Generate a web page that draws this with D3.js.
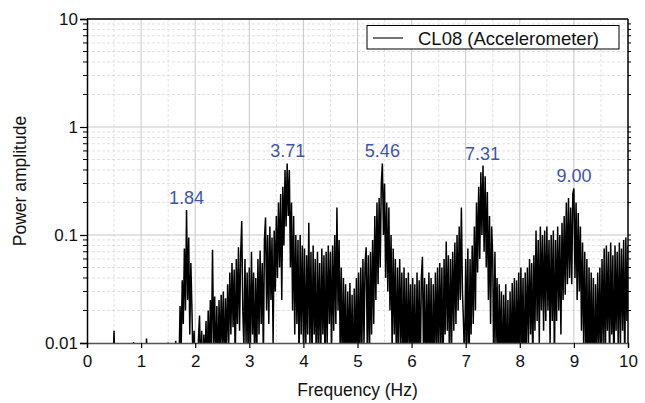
<!DOCTYPE html>
<html>
<head>
<meta charset="utf-8">
<script src="https://cdn.jsdelivr.net/npm/d3@7"></script>
<style>
html,body{margin:0;padding:0;background:#fff;}
svg{display:block;font-family:Arial,"Liberation Sans",sans-serif;}
</style>
</head>
<body>
<svg id="chart" width="645" height="403"></svg>
<script>
// ---- data ----
const freqStep = 0.02;           // Hz, sampling grid of the spectrum (0 .. 10 Hz)
const amplitude = [
  // 0.00 - 0.48
  .004,.005,.004,.006,.005,.004,.005,.006,.004,.005,.004,.005,.006,.005,.004,.005,.006,.004,.005,.004,.005,.006,.005,.004,.006,
  // 0.50 - 0.98
  .013,.005,.004,.006,.005,.004,.005,.006,.004,.005,.006,.004,.005,.006,.004,.005,.006,.004,.0102,.005,.006,.004,.005,.006,.004,
  // 1.00 - 1.48
  .005,.006,.004,.007,.005,.011,.006,.004,.005,.007,.006,.005,.004,.006,.007,.005,.006,.004,.007,.005,.006,.008,.005,.007,.006,
  // 1.50 - 1.98
  .0101,.006,.005,.007,.006,.005,.007,.0105,.006,.008,.006,.022,.008,.038,.015,.075,.02,.17,.025,.095,.012,.055,.02,.006,.013,
  // 2.00 - 2.48
  .004,.007,.003,.011,.018,.005,.013,.004,.012,.006,.016,.005,.02,.006,.025,.008,.073,.01,.027,.005,.022,.004,.025,.007,.028,
  // 2.50 - 2.98
  .009,.03,.005,.026,.008,.035,.01,.045,.012,.055,.014,.048,.006,.06,.015,.077,.013,.065,.135,.02,.009,.06,.01,.045,.006,
  // 3.00 - 3.48
  .05,.008,.07,.012,.045,.005,.04,.009,.06,.012,.072,.015,.055,.007,.09,.145,.02,.1,.015,.12,.025,.095,.01,.11,.03,
  // 3.50 - 3.98
  .15,.04,.2,.05,.24,.025,.28,.08,.4,.12,.46,.15,.4,.05,.2,.02,.15,.012,.1,.015,.09,.006,.1,.012,.08,
  // 4.00 - 4.48
  .01,.075,.005,.065,.012,.13,.009,.07,.006,.08,.012,.06,.004,.07,.01,.055,.006,.075,.012,.065,.005,.07,.01,.08,.015,
  // 4.50 - 4.98
  .07,.008,.08,.013,.1,.015,.18,.02,.09,.008,.05,.005,.04,.007,.035,.004,.03,.006,.036,.005,.028,.003,.032,.006,.04,
  // 5.00 - 5.48
  .006,.045,.005,.05,.008,.06,.01,.055,.077,.009,.065,.006,.07,.012,.09,.015,.15,.025,.2,.035,.22,.05,.3,.46,.1,
  // 5.50 - 5.98
  .3,.04,.2,.03,.18,.02,.1,.009,.075,.012,.06,.005,.05,.008,.06,.01,.045,.004,.05,.006,.04,.005,.045,.008,.035,
  // 6.00 - 6.48
  .004,.04,.006,.035,.003,.045,.007,.038,.005,.04,.063,.008,.04,.004,.035,.006,.045,.005,.04,.003,.035,.006,.045,.008,.05,
  // 6.50 - 6.98
  .006,.055,.01,.05,.004,.06,.012,.087,.013,.065,.006,.06,.01,.07,.013,.085,.015,.1,.02,.12,.025,.18,.03,.015,.006,
  // 7.00 - 7.48
  .06,.009,.075,.004,.06,.012,.08,.015,.12,.02,.2,.045,.28,.06,.38,.1,.44,.07,.35,.05,.25,.025,.15,.015,.12,
  // 7.50 - 7.98
  .06,.005,.07,.01,.04,.004,.035,.006,.03,.003,.028,.005,.035,.003,.025,.002,.03,.005,.036,.006,.04,.004,.038,.006,.045,
  // 8.00 - 8.48
  .005,.05,.008,.04,.003,.045,.008,.05,.01,.06,.012,.055,.006,.065,.013,.11,.016,.09,.01,.12,.02,.1,.013,.11,.016,
  // 8.50 - 8.98
  .12,.02,.09,.01,.1,.016,.11,.006,.09,.016,.12,.02,.1,.012,.13,.025,.15,.028,.2,.035,.22,.04,.18,.035,.24,
  // 9.00 - 9.48
  .27,.04,.2,.025,.16,.03,.12,.013,.085,.01,.07,.006,.06,.004,.05,.006,.045,.005,.04,.003,.035,.006,.045,.008,.05,
  // 9.50 - 10.00
  .006,.06,.01,.075,.005,.08,.013,.07,.006,.085,.012,.065,.004,.08,.013,.07,.008,.085,.01,.075,.013,.09,.006,.095,.016,.08
];
const peakLabels = ["1.84","3.71","5.46","7.31","9.00"];
const peakFreqs  = [1.84, 3.71, 5.46, 7.31, 9.00];
const peakAmps   = [0.17, 0.46, 0.46, 0.44, 0.27];
const xTicks = [0,1,2,3,4,5,6,7,8,9,10];
const yTicks = [10,1,0.1,0.01];
const yTickLabels = ["10","1","0.1","0.01"];
const seriesName = "CL08 (Accelerometer)";
const xTitle = "Frequency (Hz)";
const yTitle = "Power amplitude";

// ---- layout ----
const L = 87, R = 628, T = 19, B = 343;
const svg = d3.select("#chart");
const x = d3.scaleLinear().domain([0,10]).range([L,R]);
const y = d3.scaleLog().domain([0.01,10]).range([B,T]);

const data = amplitude.map((v,i)=>({f:i*freqStep, v}));

// grid
const g = svg.append("g");
const minorY = [];
[0.01,0.1,1].forEach(d=>{for(let k=2;k<=9;k++) minorY.push(d*k);});
g.selectAll(".gyMinor").data(minorY).enter().append("line")
  .attr("x1",L).attr("x2",R).attr("y1",d=>y(d)).attr("y2",d=>y(d))
  .attr("stroke","#d9d9d9").attr("stroke-width",0.8).attr("stroke-dasharray","3,2");
const minorX = d3.range(0.5,10,1);
g.selectAll(".gxMinor").data(minorX).enter().append("line")
  .attr("y1",T).attr("y2",B).attr("x1",d=>x(d)).attr("x2",d=>x(d))
  .attr("stroke","#d9d9d9").attr("stroke-width",0.8).attr("stroke-dasharray","3,2");
g.selectAll(".gyMajor").data([0.1,1]).enter().append("line")
  .attr("x1",L).attr("x2",R).attr("y1",d=>y(d)).attr("y2",d=>y(d))
  .attr("stroke","#c8c8c8").attr("stroke-width",1);
g.selectAll(".gxMajor").data(xTicks.slice(1,-1)).enter().append("line")
  .attr("y1",T).attr("y2",B).attr("x1",d=>x(d)).attr("x2",d=>x(d))
  .attr("stroke","#c8c8c8").attr("stroke-width",1);

// clip + data line
svg.append("clipPath").attr("id","clip").append("rect")
  .attr("x",L).attr("y",T).attr("width",R-L).attr("height",B-T);
const line = d3.line().x(d=>x(d.f)).y(d=>y(Math.max(d.v,0.003)));
svg.append("path").datum(data).attr("clip-path","url(#clip)")
  .attr("d",line).attr("fill","none").attr("stroke","#000").attr("stroke-width",1.5)
  .attr("stroke-linejoin","miter").attr("stroke-miterlimit",2);

// axes
const xAxis = d3.axisBottom(x).tickValues(xTicks).tickSize(5).tickFormat(d3.format("d"));
const gx = svg.append("g").attr("transform",`translate(0,${B})`).call(xAxis);
gx.select(".domain").attr("stroke","#555").attr("stroke-width",1.5);
gx.selectAll(".tick line").attr("stroke","#000").attr("stroke-width",1.2);
gx.selectAll(".tick text").attr("font-size",17).attr("fill","#111").attr("dy","0.95em")
  .attr("font-family","Arial, 'Liberation Sans', sans-serif");

const yAxis = d3.axisLeft(y).tickValues(yTicks).tickSize(7).tickFormat((d,i)=>yTickLabels[i]);
const gy = svg.append("g").attr("transform",`translate(${L},0)`).call(yAxis);
gy.select(".domain").attr("stroke","#000").attr("stroke-width",1.5);
gy.selectAll(".tick line").attr("stroke","#000").attr("stroke-width",1.2);
gy.selectAll(".tick text").attr("font-size",17).attr("fill","#111").attr("x",-9)
  .attr("font-family","Arial, 'Liberation Sans', sans-serif");
// minor y ticks left
svg.append("g").selectAll("line").data(minorY).enter().append("line")
  .attr("x1",L-4).attr("x2",L).attr("y1",d=>y(d)).attr("y2",d=>y(d))
  .attr("stroke","#000").attr("stroke-width",1);
// right axis
svg.append("line").attr("x1",R).attr("x2",R).attr("y1",T).attr("y2",B)
  .attr("stroke","#000").attr("stroke-width",1.5);
svg.append("g").selectAll("line").data(minorY.concat([0.1,1])).enter().append("line")
  .attr("x1",R).attr("x2",R+3).attr("y1",d=>y(d)).attr("y2",d=>y(d))
  .attr("stroke","#000").attr("stroke-width",1);
// top axis
svg.append("line").attr("x1",L).attr("x2",R).attr("y1",T).attr("y2",T)
  .attr("stroke","#000").attr("stroke-width",1.5);

// axis titles
svg.append("text").attr("x",(L+R)/2).attr("y",396).attr("text-anchor","middle")
  .attr("font-size",17.5).attr("fill","#111").text(xTitle);
svg.append("text").attr("transform",`translate(26,${(T+B)/2}) rotate(-90)`)
  .attr("text-anchor","middle").attr("font-size",17.5).attr("fill","#111").text(yTitle);

// peak labels
svg.append("g").selectAll("text").data(peakLabels).enter().append("text")
  .attr("x",(d,i)=>x(peakFreqs[i]))
  .attr("y",(d,i)=>y(peakAmps[i])-6)
  .attr("text-anchor","middle").attr("font-size",18).attr("fill","#4055a8")
  .text(d=>d);

// legend
const lg = svg.append("g");
lg.append("rect").attr("x",367).attr("y",25.5).attr("width",252).attr("height",23.5)
  .attr("fill","#fff").attr("stroke","#000").attr("stroke-width",1);
lg.append("line").attr("x1",373).attr("x2",403).attr("y1",38).attr("y2",38)
  .attr("stroke","#000").attr("stroke-width",1.1);
lg.append("text").attr("x",418).attr("y",44.5).attr("font-size",18.5).attr("fill","#111")
  .text(seriesName);
</script>
</body>
</html>
